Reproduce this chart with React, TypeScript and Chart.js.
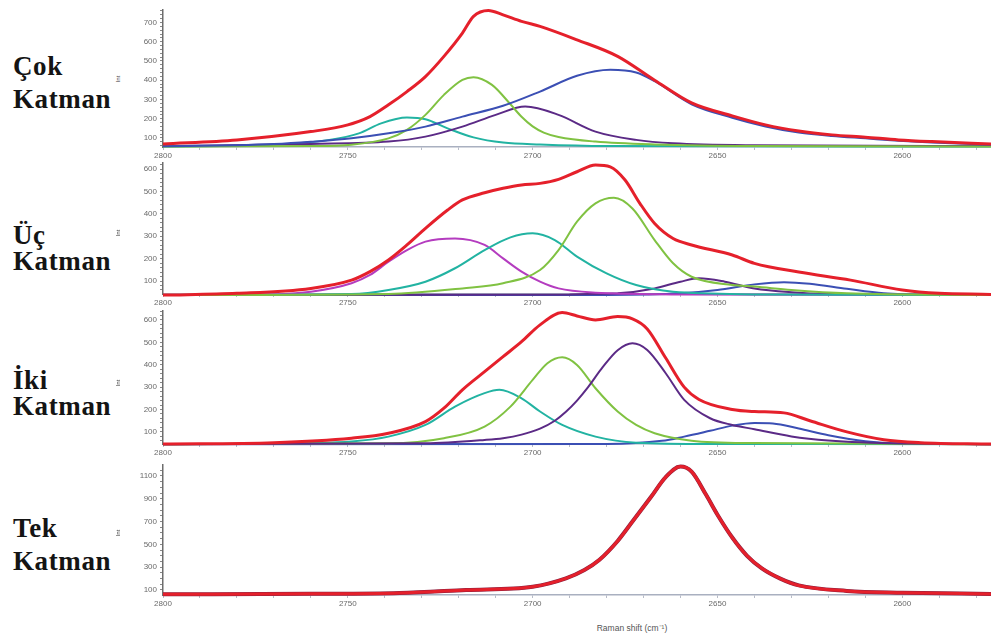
import React, { useEffect, useRef } from "react";
import { Chart, registerables } from "chart.js";
Chart.register(...registerables);

// ---------- axis constants ----------
const X_MIN = 2576;
const X_MAX = 2800;
const xLabelValues = [2800, 2750, 2700, 2650, 2600];
const xTitle = "Raman shift (cm⁻¹)";
const yTitle = "Int";

// ---------- Panel 1: Çok Katman ----------
const p1RedX = [2800, 2780, 2760, 2750, 2744, 2739, 2734, 2729, 2724, 2719, 2716, 2712, 2708, 2703, 2698, 2688, 2677, 2667, 2657, 2646, 2637, 2628, 2619, 2610, 2601, 2592, 2576];
const p1RedY = [69, 90, 133, 168, 211, 272, 341, 419, 524, 645, 732, 763, 740, 706, 680, 610, 524, 400, 282, 215, 168, 136, 116, 104, 90, 81, 69];
const p1BlueX = [2800, 2780, 2770, 2760, 2749, 2739, 2729, 2719, 2708, 2698, 2688, 2679, 2672, 2667, 2657, 2646, 2637, 2628, 2619, 2610, 2601, 2592, 2576];
const p1BlueY = [57, 62, 68, 80, 98, 124, 159, 211, 267, 341, 423, 454, 440, 395, 275, 205, 160, 128, 110, 98, 86, 77, 65];
const p1GreenX = [2800, 2760, 2749, 2739, 2734, 2729, 2724, 2719, 2716, 2711, 2706, 2703, 2700, 2697, 2693, 2683, 2667, 2640, 2576];
const p1GreenY = [56, 58, 65, 98, 142, 220, 324, 402, 416, 376, 275, 210, 160, 128, 105, 81, 66, 58, 56];
const p1TealX = [2800, 2770, 2755, 2747, 2741, 2734, 2729, 2723, 2716, 2708, 2698, 2680, 2576];
const p1TealY = [56, 65, 90, 124, 176, 206, 197, 150, 103, 76, 66, 58, 56];
const p1PurpleX = [2800, 2760, 2739, 2729, 2719, 2710, 2702, 2693, 2683, 2672, 2662, 2640, 2576];
const p1PurpleY = [58, 69, 81, 107, 159, 220, 263, 220, 133, 90, 72, 62, 58];

// ---------- Panel 2: Üç Katman ----------
const p2RedX = [2800, 2780, 2760, 2749, 2744, 2739, 2734, 2729, 2723, 2719, 2713, 2708, 2703, 2698, 2693, 2688, 2683, 2679, 2675, 2671, 2667, 2662, 2657, 2646, 2640, 2628, 2614, 2600, 2590, 2576];
const p2RedY = [37, 45, 67, 104, 142, 194, 261, 335, 417, 462, 494, 514, 529, 536, 554, 588, 618, 610, 551, 447, 357, 290, 261, 216, 179, 140, 104, 60, 45, 40];
const p2MagentaX = [2800, 2770, 2760, 2749, 2744, 2739, 2734, 2729, 2721, 2713, 2708, 2703, 2698, 2693, 2683, 2660, 2576];
const p2MagentaY = [37, 40, 52, 90, 127, 186, 238, 276, 290, 261, 201, 142, 97, 67, 48, 40, 37];
const p2TealX = [2800, 2749, 2739, 2729, 2721, 2713, 2706, 2700, 2694, 2688, 2680, 2672, 2662, 2640, 2576];
const p2TealY = [37, 42, 60, 97, 157, 238, 295, 313, 283, 209, 134, 82, 52, 40, 37];
const p2GreenX = [2800, 2739, 2719, 2708, 2698, 2693, 2688, 2683, 2678, 2673, 2667, 2662, 2657, 2646, 2640, 2630, 2615, 2576];
const p2GreenY = [37, 42, 67, 90, 149, 238, 365, 447, 472, 424, 283, 179, 119, 82, 75, 60, 45, 37];
const p2PurpleX = [2800, 2690, 2677, 2667, 2660, 2655, 2648, 2640, 2630, 2620, 2576];
const p2PurpleY = [37, 40, 45, 67, 97, 112, 97, 67, 50, 42, 37];
const p2BlueX = [2800, 2680, 2660, 2650, 2640, 2632, 2625, 2615, 2605, 2590, 2576];
const p2BlueY = [37, 38, 45, 60, 85, 95, 88, 65, 45, 38, 37];

// ---------- Panel 3: İki Katman ----------
const p3RedX = [2800, 2770, 2749, 2739, 2729, 2724, 2719, 2713, 2708, 2703, 2698, 2692, 2688, 2683, 2677, 2673, 2669, 2664, 2659, 2655, 2646, 2640, 2632, 2625, 2615, 2605, 2595, 2576];
const p3RedY = [46, 52, 72, 94, 146, 206, 288, 369, 436, 503, 578, 633, 618, 600, 615, 605, 560, 430, 300, 245, 200, 191, 185, 150, 100, 65, 52, 46];
const p3TealX = [2800, 2760, 2749, 2739, 2729, 2721, 2713, 2709, 2703, 2698, 2692, 2683, 2672, 2650, 2576];
const p3TealY = [45, 50, 57, 79, 131, 213, 273, 288, 250, 191, 131, 79, 52, 46, 45];
const p3GreenX = [2800, 2739, 2724, 2713, 2706, 2700, 2696, 2692, 2688, 2683, 2677, 2672, 2667, 2657, 2640, 2576];
const p3GreenY = [45, 49, 72, 124, 213, 332, 407, 433, 399, 295, 191, 131, 94, 61, 50, 45];
const p3PurpleX = [2800, 2729, 2713, 2708, 2703, 2698, 2694, 2691, 2688, 2685, 2681, 2677, 2673, 2669, 2664, 2659, 2652, 2646, 2640, 2630, 2620, 2600, 2576];
const p3PurpleY = [45, 49, 64, 72, 88, 115, 150, 190, 240, 300, 390, 465, 496, 466, 362, 243, 161, 131, 112, 80, 62, 48, 45];
const p3BlueX = [2800, 2680, 2665, 2659, 2652, 2646, 2640, 2635, 2628, 2620, 2610, 2600, 2576];
const p3BlueY = [45, 46, 60, 79, 105, 128, 140, 138, 115, 85, 58, 48, 45];

// ---------- Panel 4: Tek Katman ----------
const p4RedX = [2800, 2760, 2736, 2718, 2700, 2691, 2686, 2682, 2677, 2673, 2668, 2664, 2660, 2657, 2653, 2650, 2646, 2642, 2638, 2633, 2628, 2615, 2600, 2576];
const p4RedY = [62, 66, 74, 100, 129, 202, 275, 363, 530, 700, 915, 1090, 1182, 1138, 930, 760, 560, 400, 290, 200, 140, 92, 76, 65];

// ---------- colours ----------
const RED = "#e5202b";
const GREEN = "#80c242";
const TEAL = "#22b3a2";
const PURPLE = "#5b2a86";
const BLUE = "#3b4fb4";
const MAGENTA = "#b43cbf";
const DARK = "#8a2140";

const zip = (xs: number[], ys: number[]) => xs.map((x, i) => ({ x, y: ys[i] }));

type Series = { xs: number[]; ys: number[]; color: string; width: number };

type PanelDef = {
  series: Series[];
  areaTop: number;
  areaBottom: number;
  yMin: number;
  yMax: number;
  minorStep: number;
  labelEvery: number;
  labelBase: number;
  line1: string;
  line2: string;
  base1: number;
  base2: number;
  intY: number;
};

const panels: PanelDef[] = [
  {
    series: [
      { xs: p1RedX, ys: p1RedY, color: RED, width: 3 },
      { xs: p1BlueX, ys: p1BlueY, color: BLUE, width: 2 },
      { xs: p1GreenX, ys: p1GreenY, color: GREEN, width: 2 },
      { xs: p1PurpleX, ys: p1PurpleY, color: PURPLE, width: 2 },
      { xs: p1TealX, ys: p1TealY, color: TEAL, width: 2 },
    ],
    areaTop: 10, areaBottom: 147, yMin: 53, yMax: 765,
    minorStep: 20, labelEvery: 100, labelBase: 100,
    line1: "Çok", line2: "Katman", base1: 76, base2: 109, intY: 79,
  },
  {
    series: [
      { xs: p2RedX, ys: p2RedY, color: RED, width: 3 },
      { xs: p2GreenX, ys: p2GreenY, color: GREEN, width: 2 },
      { xs: p2TealX, ys: p2TealY, color: TEAL, width: 2 },
      { xs: p2MagentaX, ys: p2MagentaY, color: MAGENTA, width: 2 },
      { xs: p2PurpleX, ys: p2PurpleY, color: PURPLE, width: 2 },
      { xs: p2BlueX, ys: p2BlueY, color: BLUE, width: 2 },
    ],
    areaTop: 163, areaBottom: 294, yMin: 42, yMax: 627,
    minorStep: 20, labelEvery: 100, labelBase: 100,
    line1: "Üç", line2: "Katman", base1: 245, base2: 271, intY: 233,
  },
  {
    series: [
      { xs: p3RedX, ys: p3RedY, color: RED, width: 3 },
      { xs: p3PurpleX, ys: p3PurpleY, color: PURPLE, width: 2 },
      { xs: p3GreenX, ys: p3GreenY, color: GREEN, width: 2 },
      { xs: p3TealX, ys: p3TealY, color: TEAL, width: 2 },
      { xs: p3BlueX, ys: p3BlueY, color: BLUE, width: 2 },
    ],
    areaTop: 311, areaBottom: 444, yMin: 46, yMax: 640,
    minorStep: 20, labelEvery: 100, labelBase: 100,
    line1: "İki", line2: "Katman", base1: 390, base2: 416, intY: 383,
  },
  {
    series: [
      { xs: p4RedX, ys: p4RedY, color: RED, width: 3 },
      { xs: p4RedX, ys: p4RedY, color: DARK, width: 4 },
    ],
    areaTop: 465, areaBottom: 595, yMin: 56, yMax: 1196,
    minorStep: 50, labelEvery: 200, labelBase: 100,
    line1: "Tek", line2: "Katman", base1: 538, base2: 571, intY: 533,
  },
];

const PAD_TOP = 8;
const X_AXIS_H = 16;
const Y_AXIS_W = 30;
const AREA_LEFT = 163;
const AREA_RIGHT = 991;

function stepsBetween(min: number, max: number, step: number) {
  const out: { value: number }[] = [];
  for (let v = Math.ceil(min / step) * step; v <= max; v += step) out.push({ value: v });
  return out;
}

function Panel({ def }: { def: PanelDef }) {
  const ref = useRef<HTMLCanvasElement | null>(null);
  const canvasTop = def.areaTop - PAD_TOP;
  const canvasH = def.areaBottom - def.areaTop + PAD_TOP + X_AXIS_H;
  const canvasLeft = AREA_LEFT - Y_AXIS_W;
  const canvasW = AREA_RIGHT - canvasLeft;

  useEffect(() => {
    if (!ref.current) return;
    const chart = new Chart(ref.current, {
      type: "line",
      data: {
        datasets: def.series.map((s) => ({
          data: zip(s.xs, s.ys),
          borderColor: s.color,
          borderWidth: s.width,
          pointRadius: 0,
          fill: false,
          cubicInterpolationMode: "monotone" as const,
          clip: false as any,
        })),
      },
      options: {
        responsive: false,
        maintainAspectRatio: false,
        animation: false,
        devicePixelRatio: 1,
        layout: { padding: { top: PAD_TOP, right: 0, bottom: 0, left: 0 } },
        plugins: { legend: { display: false }, tooltip: { enabled: false } },
        scales: {
          x: {
            type: "linear",
            reverse: true,
            min: X_MIN,
            max: X_MAX,
            afterBuildTicks: (s: any) => { s.ticks = stepsBetween(X_MIN, X_MAX, 10); },
            afterFit: (s: any) => { s.height = X_AXIS_H; },
            border: { display: true, color: "#a9b0c0", width: 1.5 },
            grid: { drawOnChartArea: false, drawTicks: true, tickLength: 3, color: "#b8bcc8" },
            ticks: {
              autoSkip: false,
              maxRotation: 0,
              minRotation: 0,
              padding: 1,
              color: "#6a6a6a",
              font: { family: "Liberation Sans, Arial, sans-serif", size: 8 },
              callback: (v: any) => (xLabelValues.includes(Number(v)) ? String(v) : ""),
            },
          },
          y: {
            type: "linear",
            min: def.yMin,
            max: def.yMax,
            afterBuildTicks: (s: any) => { s.ticks = stepsBetween(def.yMin, def.yMax, def.minorStep); },
            afterFit: (s: any) => { s.width = Y_AXIS_W; },
            border: { display: true, color: "#6d6d6d", width: 1.5 },
            grid: { drawOnChartArea: false, drawTicks: true, tickLength: 3, color: "#888" },
            ticks: {
              autoSkip: false,
              padding: 3,
              color: "#6a6a6a",
              font: { family: "Liberation Sans, Arial, sans-serif", size: 8 },
              callback: (v: any) => {
                const n = Number(v);
                return n >= def.labelBase && (n - def.labelBase) % def.labelEvery === 0 ? String(n) : "";
              },
            },
          },
        },
      },
    } as any);
    return () => chart.destroy();
  }, [def]);

  const txt: React.CSSProperties = {
    position: "absolute",
    left: 13,
    fontFamily: "'Liberation Serif', 'Times New Roman', serif",
    fontWeight: "bold",
    fontSize: 27,
    lineHeight: "27px",
    letterSpacing: 0.6,
    color: "#141414",
    whiteSpace: "nowrap",
  };
  const BASE = 22.6;

  return (
    <>
      <canvas
        ref={ref}
        width={canvasW}
        height={canvasH}
        style={{ position: "absolute", left: canvasLeft, top: canvasTop, width: canvasW, height: canvasH }}
      />
      <div style={{ ...txt, top: def.base1 - BASE }}>{def.line1}</div>
      <div style={{ ...txt, top: def.base2 - BASE }}>{def.line2}</div>
      <div
        style={{
          position: "absolute",
          left: 112,
          top: def.intY - 5,
          width: 12,
          height: 10,
          fontFamily: "Liberation Sans, Arial, sans-serif",
          fontSize: 6,
          lineHeight: "10px",
          textAlign: "center",
          color: "#444",
          transform: "rotate(-90deg)",
        }}
      >
        {yTitle}
      </div>
    </>
  );
}

export default function App() {
  return (
    <div style={{ position: "absolute", left: 0, top: 0, width: 991, height: 639, background: "#fff", overflow: "hidden" }}>
      {panels.map((p, i) => (
        <Panel key={i} def={p} />
      ))}
      <div
        style={{
          position: "absolute",
          left: 632 - 60,
          width: 120,
          top: 622,
          textAlign: "center",
          fontFamily: "Liberation Sans, Arial, sans-serif",
          fontSize: 8.5,
          color: "#555",
        }}
      >
        {xTitle}
      </div>
    </div>
  );
}
